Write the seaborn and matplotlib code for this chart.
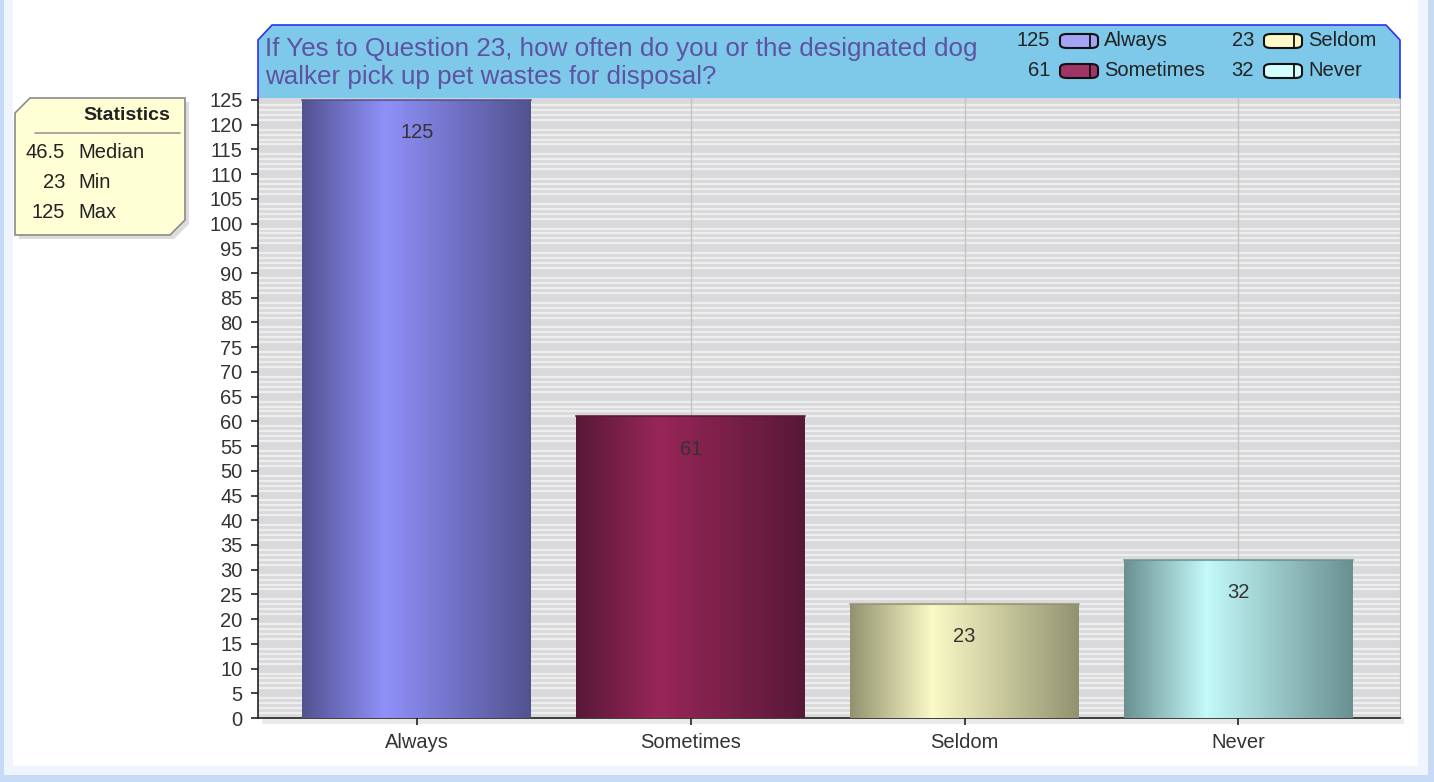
import numpy as np
import matplotlib
matplotlib.use("Agg")
import matplotlib.pyplot as plt
import seaborn as sns
from matplotlib.patches import Polygon, Rectangle, FancyBboxPatch
from matplotlib.colors import LinearSegmentedColormap
from matplotlib.ticker import MultipleLocator

# data
categories = ["Always", "Sometimes", "Seldom", "Never"]
counts = [125, 61, 23, 32]
stat_labels = ["Median", "Min", "Max"]
stat_values = ["46.5", "23", "125"]
title = "If Yes to Question 23, how often do you or the designated dog\nwalker pick up pet wastes for disposal?"

# colours: (dark edge, light highlight, legend swatch)
dark = ["#525290", "#581838", "#929270", "#6a9090"]
light = ["#9090fa", "#982658", "#fafac6", "#c4fafa"]
swatch = ["#a4a4f6", "#a03464", "#fff8c8", "#d4ffff"]

sns.set_style("white")
plt.rcParams["font.family"] = ["Liberation Sans", "DejaVu Sans"]

W, H = 1434, 782
fig = plt.figure(figsize=(W / 100, H / 100), dpi=100)
fig.patch.set_facecolor("#c6daf6")


def fx(x):
    return x / W


def fy(y):
    return 1 - y / H


# frame
fig.patches.append(Rectangle((fx(4), fy(775)), fx(1424), 775 / H, transform=fig.transFigure,
                             facecolor="#eef5fe", edgecolor="none", zorder=-3))
fig.patches.append(Rectangle((fx(13), fy(766)), fx(1405), 766 / H, transform=fig.transFigure,
                             facecolor="white", edgecolor="none", zorder=-2))

ax = fig.add_axes([fx(258), fy(718), fx(1400 - 258), (718 - 98) / H])
ax.set_zorder(2)
ax.set_facecolor("#d9d9db")

sns.barplot(x=categories, y=counts, hue=categories, palette=dark, width=0.836,
            legend=False, ax=ax, zorder=3, linewidth=0)

# gradient fill on each bar
for i, p in enumerate(ax.patches):
    cmap = LinearSegmentedColormap.from_list(
        "g%d" % i, [(0, dark[i]), (0.36, light[i]), (1, dark[i])])
    x0, w, h = p.get_x(), p.get_width(), p.get_height()
    grad = np.linspace(0, 1, 256).reshape(1, -1)
    im = ax.imshow(grad, cmap=cmap, aspect="auto", extent=[x0, x0 + w, 0, h],
                   zorder=4, interpolation="bilinear")
    im.set_clip_path(p)
    ax.plot([x0, x0 + w], [h, h], color=dark[i], lw=1.5, zorder=5, alpha=0.8)
    ax.text(x0 + w / 2, h - 6.6, str(counts[i]), ha="center", va="center",
            fontsize=14.5, color="#333333", zorder=6)

ax.set_xlim(-0.58, 3.59)
ax.set_ylim(0, 125.4)
ax.yaxis.set_major_locator(MultipleLocator(5))
ax.yaxis.set_minor_locator(MultipleLocator(1))
ax.grid(axis="y", which="minor", color="#eeeeef", lw=1.6, zorder=1)
ax.set_axisbelow(True)
for xt in ax.get_xticks():
    ax.axvline(xt, color="#c4c4c4", lw=1, zorder=2)
ax.spines["top"].set_visible(False)
ax.spines["right"].set_color("#bbbbbb")
ax.spines["left"].set_color("#222222")
ax.spines["bottom"].set_color("#222222")
ax.spines["left"].set_linewidth(1.2)
ax.spines["bottom"].set_linewidth(1.2)
ax.tick_params(axis="y", which="major", left=True, length=5, width=1.2, color="#222222",
               labelsize=14.5, labelcolor="#333333", pad=6)
ax.tick_params(axis="x", bottom=True, length=5, width=1.2, color="#222222",
               labelsize=14.5, labelcolor="#333333", pad=6)
ax.tick_params(which="minor", left=False)
ax.set_xlabel("")
ax.set_ylabel("")

# shadow under plot
fig.patches.append(Rectangle((fx(262), fy(724)), fx(1142), 6 / H, transform=fig.transFigure,
                             facecolor="#eaeaea", edgecolor="none", zorder=-1))

# title box
tb = [(258, 98), (258, 40), (272, 25), (1386, 25), (1400, 40), (1400, 98)]
fig.patches.append(Polygon([(fx(x), fy(y)) for x, y in tb], closed=True,
                           transform=fig.transFigure, facecolor="#7ec8e9",
                           edgecolor="none", zorder=1))
fig.lines.append(plt.Line2D([fx(x) for x, y in tb], [fy(y) for x, y in tb],
                            transform=fig.transFigure, color="#3030f0", lw=1.2, zorder=2))
fig.text(fx(265), fy(63), title, ha="left", va="center", fontsize=18.7,
         color="#5e52a2", linespacing=1.25, zorder=3)

# legend
leg_pos = [(1050, 41), (1050, 71), (1254, 41), (1254, 71)]
for i, (x, y) in enumerate(leg_pos):
    fig.text(fx(x), fy(y), str(counts[i]), ha="right", va="center", fontsize=14.5,
             color="#222222", zorder=3)
    fig.patches.append(FancyBboxPatch((fx(x + 10), fy(y + 7)), fx(38), 14 / H,
                                      boxstyle="round,pad=0,rounding_size=0.005",
                                      transform=fig.transFigure, facecolor=swatch[i],
                                      edgecolor="#111111", lw=1.5, zorder=3))
    fig.lines.append(plt.Line2D([fx(x + 40), fx(x + 40)], [fy(y + 7), fy(y - 7)],
                                transform=fig.transFigure, color="#111111", lw=1.3, zorder=4))
    fig.text(fx(x + 54), fy(y), categories[i], ha="left", va="center", fontsize=14.5,
             color="#222222", zorder=3)

# statistics box
sb = [(15, 235), (15, 113), (30, 98), (185, 98), (185, 220), (170, 235)]
shadow = [(x + 4, y + 4) for x, y in sb]
fig.patches.append(Polygon([(fx(x), fy(y)) for x, y in shadow], closed=True,
                           transform=fig.transFigure, facecolor="#dddddd",
                           edgecolor="none", zorder=1))
fig.patches.append(Polygon([(fx(x), fy(y)) for x, y in sb], closed=True,
                           transform=fig.transFigure, facecolor="#fffed4",
                           edgecolor="#8a8a8a", lw=1.2, zorder=2))
fig.text(fx(170), fy(115), "Statistics", ha="right", va="center", fontsize=14,
         fontweight="bold", color="#222222", zorder=3)
fig.lines.append(plt.Line2D([fx(35), fx(180)], [fy(133), fy(133)], transform=fig.transFigure,
                            color="#999999", lw=1.2, zorder=3))
for j, (lab, val) in enumerate(zip(stat_labels, stat_values)):
    y = 153 + 30 * j
    fig.text(fx(65), fy(y), val, ha="right", va="center", fontsize=14.5, color="#222222", zorder=3)
    fig.text(fx(78), fy(y), lab, ha="left", va="center", fontsize=14.5, color="#222222", zorder=3)

fig.savefig("out.png", dpi=100, facecolor=fig.get_facecolor())
